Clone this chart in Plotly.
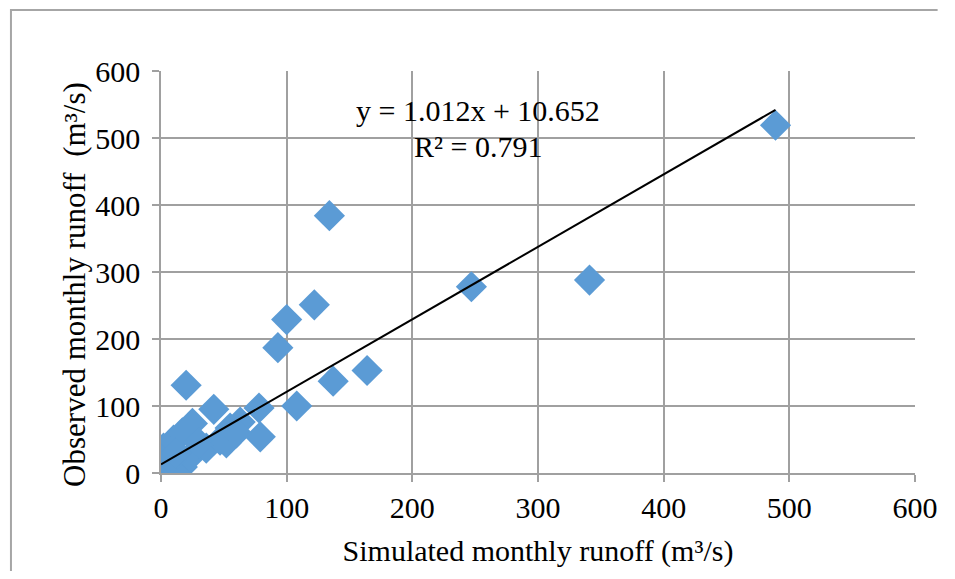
import plotly.graph_objects as go

# Simulated (x) vs observed (y) monthly runoff, m3/s
simulated = [489, 341, 247, 134, 122, 100, 93, 164, 137, 108, 78, 79, 42, 20,
             0, 4, 17, 23, 0, 2, 10, 17, 25, 36, 47, 55, 63, 8, 12, 30, 52, 60]
observed = [519, 288, 278, 384, 251, 229, 187, 153, 137, 100, 97, 54, 95, 131,
            3, 2, 9, 24, 12, 37, 49, 60, 74, 37, 49, 67, 76, 20, 30, 45, 45, 60]

# Trendline as drawn in the picture
trend_x = [0, 489]
trend_y = [13, 542]

equation_text = "y = 1.012x + 10.652"
r2_text = "R² = 0.791"
x_title = "Simulated monthly runoff (m³/s)"
y_title = "Observed monthly runoff \u00a0(m³/s)"

x_ticks = [0, 100, 200, 300, 400, 500, 600]
y_ticks = [0, 100, 200, 300, 400, 500, 600]

FONT = "Liberation Serif"
GRID = "#a0a0a0"

fig = go.Figure()
fig.add_trace(go.Scatter(
    x=simulated, y=observed, mode="markers",
    marker=dict(symbol="diamond", size=24, color="#5b9bd5", line=dict(width=0)),
    showlegend=False, hoverinfo="skip"))
fig.add_trace(go.Scatter(
    x=trend_x, y=trend_y, mode="lines",
    line=dict(color="black", width=2), showlegend=False, hoverinfo="skip"))

fig.add_annotation(x=252, y=541, text=equation_text, showarrow=False,
                   font=dict(family=FONT, size=30, color="black"))
fig.add_annotation(x=252, y=488, text=r2_text, showarrow=False,
                   font=dict(family=FONT, size=30, color="black"))

# y-axis title placed as rotated text
fig.add_annotation(xref="paper", yref="paper", x=-0.114, y=0.468,
                   xanchor="center", yanchor="middle", textangle=-90,
                   text=y_title, showarrow=False,
                   font=dict(family=FONT, size=31, color="black"))

# outer chart border (left and top visible) as one open path
fig.add_shape(type="path", xref="paper", yref="paper",
              path="M -0.199 -0.25 L -0.199 1.152 L 1.03 1.152",
              line=dict(color="#a6a6a6", width=2))

axis_common = dict(
    showgrid=True, gridcolor=GRID, gridwidth=1.5,
    showline=True, linecolor=GRID, linewidth=1.5,
    ticks="outside", ticklen=7, tickcolor=GRID, tickwidth=1.5,
    zeroline=False, tickfont=dict(family=FONT, size=30, color="black"),
    range=[0, 600], fixedrange=True,
)

fig.update_xaxes(**axis_common, tickvals=x_ticks, ticktext=[str(v) for v in x_ticks],
                 title=dict(text=x_title,
                            font=dict(family=FONT, size=30, color="black"), standoff=17))
fig.update_yaxes(**axis_common, tickvals=y_ticks, ticktext=[str(v) for v in y_ticks],
                 ticklabelstandoff=6)

fig.update_layout(
    width=939, height=563,
    margin=dict(l=153, r=32, t=63, b=98, autoexpand=False),
    plot_bgcolor="white", paper_bgcolor="white",
)

fig.write_html("out.html")
